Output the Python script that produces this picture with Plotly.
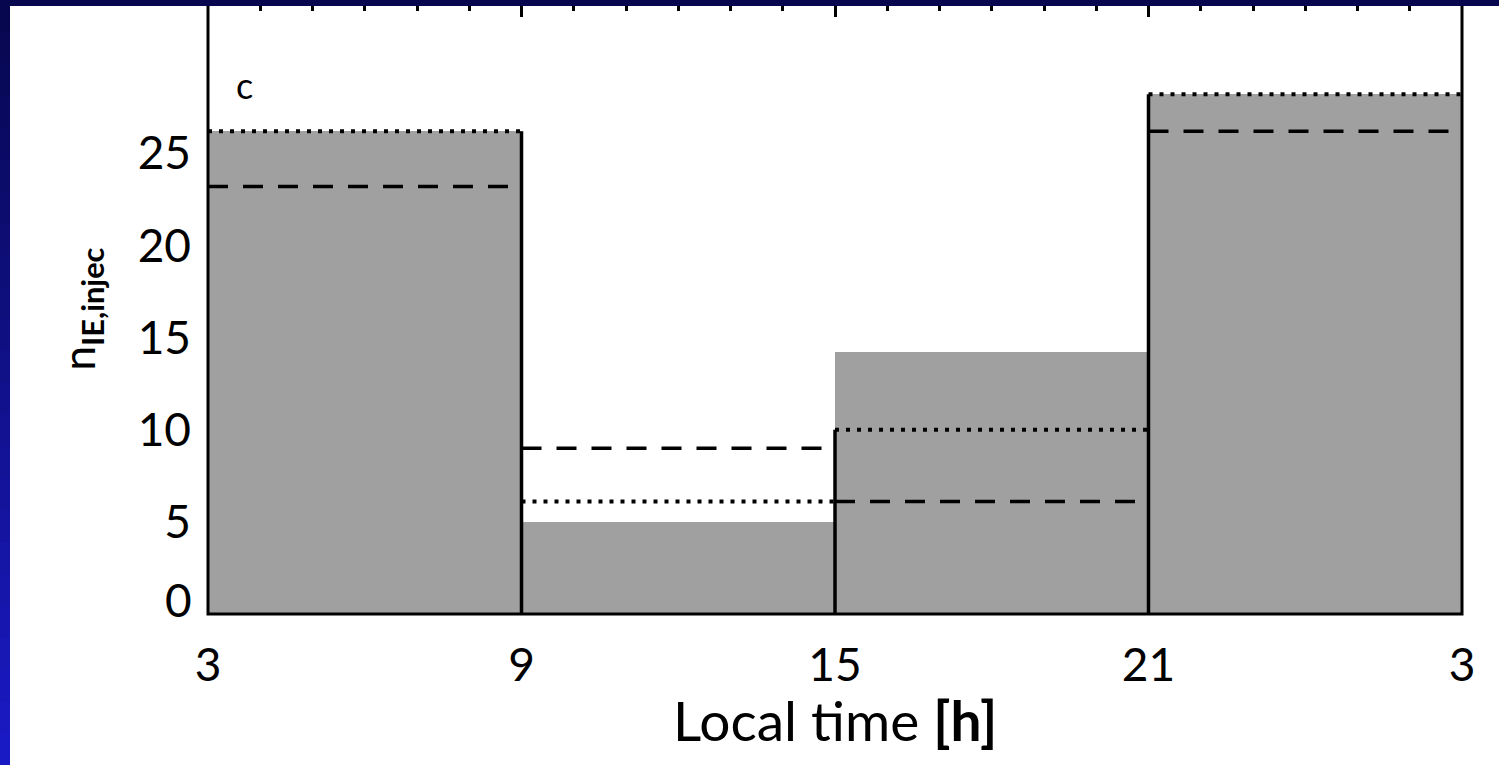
import plotly.graph_objects as go

# Local-time bins (hours); the last bin wraps past midnight (21-3 h)
bin_edges = [3, 9, 15, 21, 27]
x_tick_vals = [3, 9, 15, 21, 27]
x_tick_text = ["3", "9", "15", "21", "3"]
y_tick_vals = [5, 10, 15, 20, 25]

# Injection event counts per bin
counts = [26.2, 5.0, 14.2, 28.2]
# Reference levels drawn as dotted and dashed lines
dotted_vals = [26.2, 6.1, 10.0, 28.2]
dashed_vals = [23.2, 9.0, 6.1, 26.2]

W, H = 1499, 765
L, R, T, B = 208, 37, 4, 151
PW, PH = W - L - R, H - T - B

FONT = "Lato"
GREY = "#a0a0a0"

centers = [(a + b) / 2 for a, b in zip(bin_edges[:-1], bin_edges[1:])]
widths = [b - a for a, b in zip(bin_edges[:-1], bin_edges[1:])]


def segments(vals):
    xs, ys = [], []
    for a, b, v in zip(bin_edges[:-1], bin_edges[1:], vals):
        xs += [a, b, None]
        ys += [v, v, None]
    return xs, ys


fig = go.Figure()

fig.add_trace(go.Bar(
    x=centers, y=counts, width=widths,
    marker=dict(color=GREY, line=dict(width=0)),
    showlegend=False, hoverinfo="skip",
))

# Vertical separators between bins, up to the taller of the neighbouring dotted levels
sep_x, sep_y = [], []
for i, edge in enumerate(bin_edges[1:-1]):
    top = max(dotted_vals[i], dotted_vals[i + 1])
    sep_x += [edge, edge, None]
    sep_y += [0, top, None]
fig.add_trace(go.Scatter(
    x=sep_x, y=sep_y, mode="lines",
    line=dict(color="black", width=3.5),
    showlegend=False, hoverinfo="skip",
))

dx, dy = segments(dotted_vals)
fig.add_trace(go.Scatter(
    x=dx, y=dy, mode="lines",
    line=dict(color="black", width=4, dash="4px,7px"),
    showlegend=False, hoverinfo="skip",
))

hx, hy = segments(dashed_vals)
fig.add_trace(go.Scatter(
    x=hx, y=hy, mode="lines",
    line=dict(color="black", width=3.5, dash="20px,15px"),
    showlegend=False, hoverinfo="skip",
))


def px_to_paper(px, py):
    return (px - L) / PW, (H - B - py) / PH


shapes = []
# Plot frame
shapes.append(dict(type="rect", xref="paper", yref="paper", x0=0, x1=1, y0=0, y1=1,
                   line=dict(color="black", width=3), layer="above"))

# Blue border along the top and left edges of the page
x0p, _ = px_to_paper(0, 0)
x1p, _ = px_to_paper(W, 0)
_, ytop = px_to_paper(0, 0)
_, ystrip = px_to_paper(0, 6)
shapes.append(dict(type="rect", xref="paper", yref="paper",
                   x0=x0p, x1=x1p, y0=ystrip, y1=ytop,
                   fillcolor="#070750", line=dict(width=0), layer="above"))
n_bands = 24
top_rgb = (7, 7, 80)
bot_rgb = (26, 26, 196)
for k in range(n_bands):
    f = k / (n_bands - 1)
    col = "rgb(%d,%d,%d)" % tuple(round(a + (b - a) * f) for a, b in zip(top_rgb, bot_rgb))
    py0 = H * k / n_bands
    py1 = H * (k + 1) / n_bands + 1
    xa, ya = px_to_paper(0, py0)
    xb, yb = px_to_paper(10, py1)
    shapes.append(dict(type="rect", xref="paper", yref="paper",
                       x0=xa, x1=xb, y0=yb, y1=ya,
                       fillcolor=col, line=dict(width=0), layer="above"))

_, xtitle_y = px_to_paper(0, 720)
annotations = [
    dict(x=3.7, y=28.7, xref="x", yref="y", text="c", showarrow=False,
         font=dict(family=FONT, size=36, color="black")),
    # lowest y label sits just above the bottom axis line
    dict(x=0, y=0, xref="paper", yref="y", text="0", showarrow=False,
         xanchor="right", yanchor="middle", xshift=-14, yshift=15,
         font=dict(family=FONT, size=46, color="black")),
    # x-axis title
    dict(x=0.5, y=xtitle_y, xref="paper", yref="paper", text="Local time <b>[h]</b>",
         showarrow=False, xanchor="center", yanchor="middle",
         font=dict(family=FONT, size=55, color="black")),
]

fig.update_layout(
    width=W, height=H,
    margin=dict(l=L, r=R, t=T, b=B),
    paper_bgcolor="white", plot_bgcolor="white",
    font=dict(family=FONT, color="black"),
    bargap=0,
    shapes=shapes,
    annotations=annotations,
)

fig.update_xaxes(
    range=[3, 27], tickvals=x_tick_vals, ticktext=x_tick_text,
    ticks="inside", ticklen=13, tickwidth=3, tickcolor="black",
    mirror="ticks", showline=False, showgrid=False, zeroline=False,
    layer="below traces",
    minor=dict(dtick=1, tick0=3, ticks="inside", ticklen=7, tickwidth=3,
               tickcolor="black", showgrid=False),
    tickfont=dict(family=FONT, size=46),
    ticklabelstandoff=20,
)

fig.update_yaxes(
    range=[0, 33.1], tickvals=y_tick_vals,
    ticks="", showline=False, showgrid=False, zeroline=False,
    tickfont=dict(family=FONT, size=46),
    ticklabelstandoff=16,
    title=dict(text="n<sub><b>IE,injec</b></sub>", font=dict(family=FONT, size=44), standoff=28),
)

fig.write_html("out.html")
